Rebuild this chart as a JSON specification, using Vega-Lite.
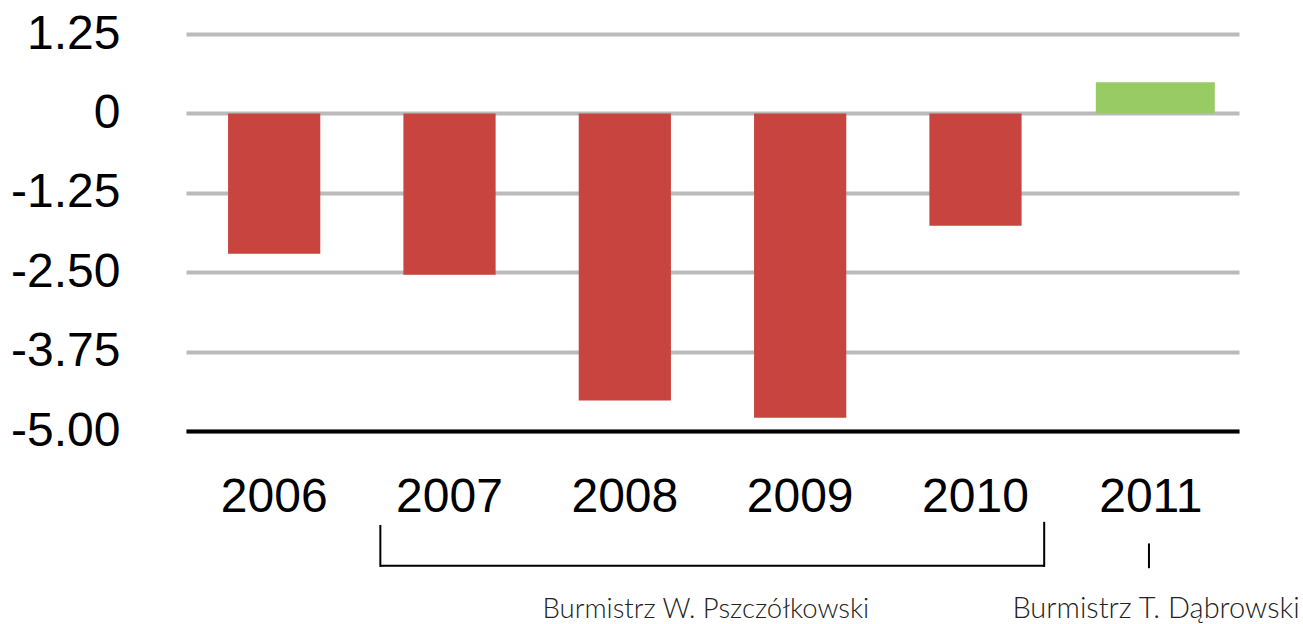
{
  "$schema": "https://vega.github.io/schema/vega-lite/v6.json",
  "width": 1053,
  "height": 397,
  "autosize": {"type": "none"},
  "padding": {"left": 186, "top": 34, "right": 64, "bottom": 193},
  "background": "white",
  "config": {"view": {"stroke": null}},
  "datasets": {
    "balance": [
      {"year": "2006", "value": -2.21},
      {"year": "2007", "value": -2.54},
      {"year": "2008", "value": -4.52},
      {"year": "2009", "value": -4.79},
      {"year": "2010", "value": -1.77},
      {"year": "2011", "value": 0.49}
    ],
    "terms": [
      {"mayor": "Burmistrz W. Pszczółkowski", "start": "2007", "end": "2010"},
      {"mayor": "Burmistrz T. Dąbrowski", "start": "2011", "end": "2011"}
    ]
  },
  "layer": [
    {
      "data": {"name": "balance"},
      "transform": [{"filter": "datum.value < 0"}],
      "mark": {"type": "bar", "color": "#C8443E"},
      "encoding": {
        "x": {
          "field": "year", "type": "nominal",
          "scale": {"domain": ["2006", "2007", "2008", "2009", "2010", "2011"], "paddingInner": 0.474, "paddingOuter": 0.24},
          "axis": {
            "title": null, "labelAngle": 0, "labelFont": "Liberation Sans", "labelFontSize": 48,
            "labelColor": "black", "labelPadding": 42, "ticks": false, "grid": false,
            "domainColor": "black", "domainWidth": 4
          }
        },
        "y": {
          "field": "value", "type": "quantitative",
          "scale": {"domain": [-5, 1.25], "nice": false, "zero": false},
          "axis": {
            "title": null, "values": [1.25, 0, -1.25, -2.5, -3.75, -5],
            "labelExpr": "datum.value == 0 ? '0' : replace(format(datum.value, '.2f'), '−', '-')",
            "labelFont": "Liberation Sans", "labelFontSize": 48, "labelColor": "black",
            "labelPadding": 66, "ticks": false, "domain": false,
            "gridColor": "#BBBBBB", "gridWidth": 4
          }
        }
      }
    },
    {
      "data": {"name": "balance"},
      "transform": [{"filter": "datum.value >= 0"}],
      "mark": {"type": "bar", "color": "#98CB63", "width": {"band": 1.29}, "xOffset": 4.5},
      "encoding": {
        "x": {"field": "year", "type": "nominal"},
        "y": {"field": "value", "type": "quantitative"}
      }
    },
    {
      "data": {"name": "terms"},
      "transform": [{"filter": "datum.start != datum.end"}],
      "mark": {"type": "rule", "color": "black", "strokeWidth": 2},
      "encoding": {
        "x": {"field": "start", "type": "nominal", "bandPosition": -0.25},
        "y": {"datum": -6.48, "type": "quantitative"},
        "y2": {"datum": -7.14}
      }
    },
    {
      "data": {"name": "terms"},
      "transform": [{"filter": "datum.start != datum.end"}],
      "mark": {"type": "rule", "color": "black", "strokeWidth": 2},
      "encoding": {
        "x": {"field": "end", "type": "nominal", "bandPosition": 1.245},
        "y": {"datum": -6.43, "type": "quantitative"},
        "y2": {"datum": -7.14}
      }
    },
    {
      "data": {"name": "terms"},
      "transform": [{"filter": "datum.start != datum.end"}],
      "mark": {"type": "rule", "color": "black", "strokeWidth": 2},
      "encoding": {
        "x": {"field": "start", "type": "nominal", "bandPosition": -0.25},
        "x2": {"field": "end", "bandPosition": 1.245},
        "y": {"datum": -7.12, "type": "quantitative"}
      }
    },
    {
      "data": {"name": "terms"},
      "transform": [{"filter": "datum.start == datum.end"}],
      "mark": {"type": "rule", "color": "black", "strokeWidth": 2},
      "encoding": {
        "x": {"field": "start", "type": "nominal", "bandPosition": 0.48},
        "y": {"datum": -6.77, "type": "quantitative"},
        "y2": {"datum": -7.16}
      }
    },
    {
      "data": {"name": "terms"},
      "transform": [{"filter": "datum.start != datum.end"}],
      "mark": {"type": "text", "font": "Lato", "fontWeight": 300, "fontSize": 27.5, "color": "#222222", "align": "center", "baseline": "alphabetic"},
      "encoding": {
        "x": {"field": "start", "type": "nominal", "bandPosition": 3.28},
        "y": {"datum": -7.95, "type": "quantitative"},
        "text": {"field": "mayor"}
      }
    },
    {
      "data": {"name": "terms"},
      "transform": [{"filter": "datum.start == datum.end"}],
      "mark": {"type": "text", "font": "Lato", "fontWeight": 300, "fontSize": 29, "color": "#222222", "align": "center", "baseline": "alphabetic"},
      "encoding": {
        "x": {"field": "start", "type": "nominal", "bandPosition": 0.557},
        "y": {"datum": -7.95, "type": "quantitative"},
        "text": {"field": "mayor"}
      }
    }
  ]
}
